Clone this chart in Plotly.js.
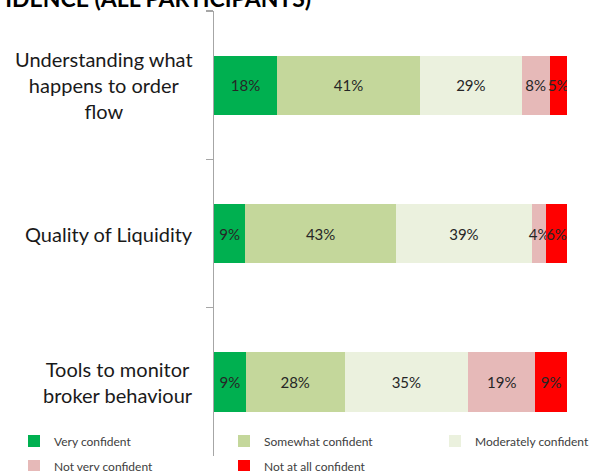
<!DOCTYPE html>
<html>
<head>
<meta charset="utf-8">
<script src="https://cdn.plot.ly/plotly-3.0.1.min.js"></script>
<style>html,body{margin:0;padding:0;background:#fff;}#chart{width:602px;height:471px;}</style>
</head>
<body>
<div id="chart"></div>
<script>
const categories = ["Understanding what<br>happens to order<br>flow", "Quality of Liquidity", "Tools to monitor<br>broker behaviour"];
const seriesNames = ["Very confident", "Somewhat confident", "Moderately confident", "Not very confident", "Not at all confident"];
const veryConfident = [18, 9, 9];
const somewhatConfident = [41, 43, 28];
const moderatelyConfident = [29, 39, 35];
const notVeryConfident = [8, 4, 19];
const notAtAllConfident = [5, 6, 9];
const seriesValues = [veryConfident, somewhatConfident, moderatelyConfident, notVeryConfident, notAtAllConfident];
const seriesColors = ["#00B050", "#C4D79B", "#EBF1DE", "#E6B9B8", "#FF0000"];
const titleText = "CONFIDENCE (ALL PARTICIPANTS)";

const W = 602, H = 471;
const FONT = "Lato, 'Open Sans', sans-serif";
// legend slot (column, row) for each series
const legendSlots = [[0, 0], [1, 0], [2, 0], [0, 1], [1, 1]];
const legendColX = [14, 224, 435];
const legendRowY = [441, 466];

const traces = seriesValues.map((vals, i) => ({
  type: "bar",
  orientation: "h",
  name: seriesNames[i],
  y: categories,
  x: vals,
  text: vals.map(v => v + "%"),
  textposition: "inside",
  insidetextanchor: "middle",
  textangle: 0,
  constraintext: "none",
  textfont: {family: FONT, size: 15, color: "#262626"},
  marker: {color: seriesColors[i], line: {width: 0}},
  legend: i === 0 ? "legend" : "legend" + (i + 1),
  hoverinfo: "skip"
}));

const annotations = categories.map(c => ({
  xref: "paper", yref: "y", x: 195 / W, y: c,
  xanchor: "right", yanchor: "middle", align: "center",
  text: c, showarrow: false,
  font: {family: FONT, size: 20, color: "#1a1a1a"}
}));
annotations.push({
  xref: "paper", yref: "paper", x: 313 / W, y: 1 + 13 / 445,
  xanchor: "right", yanchor: "middle",
  text: "<b>" + titleText + "</b>", showarrow: false,
  font: {family: FONT, size: 23, color: "#000"}
});

const layout = {
  width: W, height: H,
  margin: {l: 0, r: 0, t: 11, b: 15, pad: 0, autoexpand: false},
  paper_bgcolor: "#fff", plot_bgcolor: "#fff",
  barmode: "stack", barnorm: "percent", bargap: 0.6,
  showlegend: true,
  xaxis: {domain: [214 / W, 567 / W], range: [0, 100], visible: false, fixedrange: true},
  yaxis: {
    type: "category", autorange: "reversed", tickson: "boundaries",
    ticks: "outside", ticklen: 7, tickcolor: "#a6a6a6", tickwidth: 1.5,
    showline: true, linecolor: "#a6a6a6", linewidth: 1.5,
    showticklabels: false, showgrid: false, zeroline: false, fixedrange: true
  },
  annotations: annotations
};
legendSlots.forEach((s, i) => {
  const key = i === 0 ? "legend" : "legend" + (i + 1);
  layout[key] = {
    orientation: "h", xanchor: "left", yanchor: "middle",
    xref: "container", yref: "container",
    x: legendColX[s[0]] / W, y: 1 - legendRowY[s[1]] / H,
    font: {family: FONT, size: 12, color: "#404040"},
    bgcolor: "rgba(0,0,0,0)", itemwidth: 30
  };
});

Plotly.newPlot("chart", traces, layout, {displayModeBar: false, staticPlot: true});
</script>
</body>
</html>
